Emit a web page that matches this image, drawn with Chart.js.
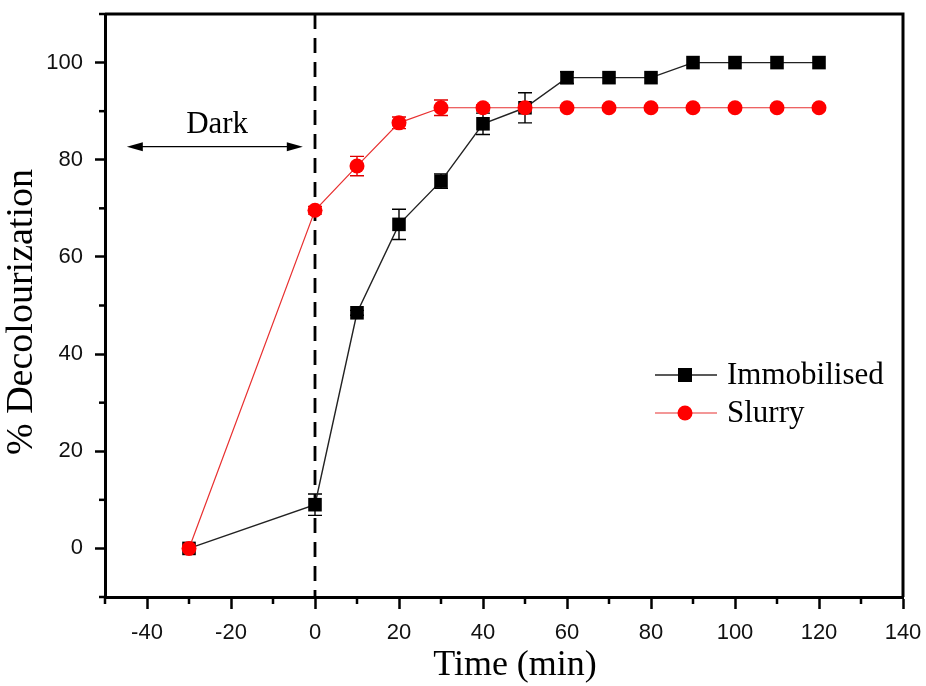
<!DOCTYPE html>
<html>
<head>
<meta charset="utf-8">
<script src="https://cdn.jsdelivr.net/npm/chart.js@4/dist/chart.umd.min.js"></script>
<style>
  html, body { margin: 0; padding: 0; background: #fff; }
  #wrap { width: 926px; height: 686px; }
</style>
</head>
<body>
<div id="wrap"><canvas id="chart" width="926" height="686"></canvas></div>
<script>
// time points (min)
const times = [-30, 0, 10, 20, 30, 40, 50, 60, 70, 80, 90, 100, 110, 120];

// % decolourization
const immobilised = [0, 9, 48.5, 66.7, 75.6, 87.4, 90.7, 96.9, 96.9, 96.9, 100, 100, 100, 100];
const immobilisedErr = [0, 2.2, 0.5, 3.1, 1.5, 2.2, 3.1, 1.2, 0, 0, 0, 0, 0, 0];

const slurry = [0, 69.6, 78.7, 87.6, 90.7, 90.7, 90.7, 90.7, 90.7, 90.7, 90.7, 90.7, 90.7, 90.7];
const slurryErr = [0, 0.8, 2, 1.2, 1.6, 0.6, 0.5, 0, 0, 0, 0, 0, 0, 0];

const seriesNames = ['Immobilised', 'Slurry'];
const darkLabel = 'Dark';

const xTitle = 'Time (min)';
const yTitle = '% Decolourization';

const serif = '"Liberation Serif", "Times New Roman", serif';
const sans = '"Liberation Sans", Arial, sans-serif';

const toPoints = (ys) => ys.map((y, i) => ({ x: times[i], y: y }));

// error bars, drawn under the markers
const errorBars = {
  id: 'errorBars',
  beforeDatasetsDraw(chart) {
    const ctx = chart.ctx;
    const xs = chart.scales.x, ys = chart.scales.y;
    const sets = [
      { vals: immobilised, err: immobilisedErr, color: '#000' },
      { vals: slurry, err: slurryErr, color: '#e00000' }
    ];
    ctx.save();
    ctx.lineWidth = 1.4;
    sets.forEach(s => {
      ctx.strokeStyle = s.color;
      s.vals.forEach((v, i) => {
        if (!s.err[i]) return;
        const px = xs.getPixelForValue(times[i]);
        const top = ys.getPixelForValue(v + s.err[i]);
        const bot = ys.getPixelForValue(v - s.err[i]);
        ctx.beginPath();
        ctx.moveTo(px, top); ctx.lineTo(px, bot);
        ctx.moveTo(px - 7, top); ctx.lineTo(px + 7, top);
        ctx.moveTo(px - 7, bot); ctx.lineTo(px + 7, bot);
        ctx.stroke();
      });
    });
    ctx.restore();
  }
};

// frame, minor ticks, titles, dashed line at t=0, "Dark" arrow, legend
const decorations = {
  id: 'decorations',
  beforeDatasetsDraw(chart) {
    const ctx = chart.ctx;
    const a = chart.chartArea;
    const xs = chart.scales.x, ys = chart.scales.y;
    ctx.save();
    // dashed line where the light goes on
    const x0 = xs.getPixelForValue(0);
    ctx.strokeStyle = '#000';
    ctx.lineWidth = 2.8;
    ctx.setLineDash([15, 9]);
    ctx.beginPath();
    ctx.moveTo(x0, a.top);
    ctx.lineTo(x0, a.bottom);
    ctx.stroke();
    ctx.setLineDash([]);

    // Dark arrow
    const ay = ys.getPixelForValue(82.7);
    const ax1 = xs.getPixelForValue(-44.8), ax2 = xs.getPixelForValue(-2.9);
    ctx.lineWidth = 1.2;
    ctx.beginPath();
    ctx.moveTo(ax1 + 10, ay); ctx.lineTo(ax2 - 10, ay);
    ctx.stroke();
    ctx.fillStyle = '#000';
    ctx.beginPath();
    ctx.moveTo(ax1, ay); ctx.lineTo(ax1 + 16, ay - 4.5); ctx.lineTo(ax1 + 16, ay + 4.5); ctx.closePath();
    ctx.fill();
    ctx.beginPath();
    ctx.moveTo(ax2, ay); ctx.lineTo(ax2 - 16, ay - 4.5); ctx.lineTo(ax2 - 16, ay + 4.5); ctx.closePath();
    ctx.fill();
    ctx.font = '31px ' + serif;
    ctx.textAlign = 'center';
    ctx.textBaseline = 'middle';
    ctx.fillText(darkLabel, xs.getPixelForValue(-23.3), ys.getPixelForValue(87.1));
    ctx.restore();
  },
  afterDraw(chart) {
    const ctx = chart.ctx;
    const a = chart.chartArea;
    const xs = chart.scales.x, ys = chart.scales.y;
    ctx.save();
    ctx.strokeStyle = '#000';
    ctx.lineWidth = 3;
    ctx.beginPath();
    ctx.moveTo(a.left, a.top); ctx.lineTo(a.right, a.top); ctx.lineTo(a.right, a.bottom);
    ctx.stroke();

    // minor ticks
    ctx.lineWidth = 2.5;
    xs.ticks.forEach(t => {
      if (t.value % 20 === 0) return;
      const px = xs.getPixelForValue(t.value);
      ctx.beginPath(); ctx.moveTo(px, a.bottom); ctx.lineTo(px, a.bottom + 7); ctx.stroke();
    });
    ys.ticks.forEach(t => {
      if (t.value % 20 === 0) return;
      const py = ys.getPixelForValue(t.value);
      ctx.beginPath(); ctx.moveTo(a.left, py); ctx.lineTo(a.left - 6, py); ctx.stroke();
    });

    // axis titles
    ctx.fillStyle = '#000';
    ctx.font = '36px ' + serif;
    ctx.textAlign = 'center';
    ctx.textBaseline = 'middle';
    ctx.fillText(xTitle, 515, 666);
    ctx.save();
    ctx.font = '38px ' + serif;
    ctx.translate(22, 312);
    ctx.rotate(-Math.PI / 2);
    ctx.fillText(yTitle, 0, 0);
    ctx.restore();

    // legend
    const lx = 655, lw = 62;
    const rows = [
      { y: 375, color: '#222', fill: '#000', style: 'rect', lineW: 1.4 },
      { y: 413, color: '#e83030', fill: '#f00', style: 'circle', lineW: 1.2 }
    ];
    rows.forEach((r, i) => {
      ctx.strokeStyle = r.color;
      ctx.lineWidth = r.lineW;
      ctx.beginPath(); ctx.moveTo(lx, r.y); ctx.lineTo(lx + lw, r.y); ctx.stroke();
      ctx.fillStyle = r.fill;
      const cx = lx + 30;
      if (r.style === 'rect') {
        ctx.fillRect(cx - 7, r.y - 7, 14, 14);
      } else {
        ctx.beginPath(); ctx.arc(cx, r.y, 7.5, 0, Math.PI * 2); ctx.fill();
      }
      ctx.fillStyle = '#000';
      ctx.font = '31px ' + serif;
      ctx.textAlign = 'left';
      ctx.textBaseline = 'middle';
      ctx.fillText(seriesNames[i], lx + lw + 10, r.y + 1);
    });
    ctx.restore();
  }
};

const majorColor = (c) => (c.tick && c.tick.value % 20 === 0) ? '#000' : 'rgba(0,0,0,0)';
const majorLabel = (v) => (v % 20 === 0 ? v : '');

new Chart(document.getElementById('chart'), {
  type: 'line',
  data: {
    datasets: [
      {
        label: seriesNames[0],
        data: toPoints(immobilised),
        borderColor: '#222',
        borderWidth: 1.4,
        pointStyle: 'rect',
        pointRadius: 9.6,
        pointBackgroundColor: '#000',
        pointBorderWidth: 0,
        order: 2
      },
      {
        label: seriesNames[1],
        data: toPoints(slurry),
        borderColor: '#e83030',
        borderWidth: 1.2,
        pointStyle: 'circle',
        pointRadius: 7.5,
        pointBackgroundColor: '#f00',
        pointBorderWidth: 0,
        order: 1
      }
    ]
  },
  options: {
    responsive: false,
    animation: false,
    layout: { padding: { left: 0, right: 23, top: 14, bottom: 0 } },
    plugins: { legend: { display: false }, tooltip: { enabled: false } },
    scales: {
      x: {
        type: 'linear',
        min: -50,
        max: 140,
        afterFit: (s) => { s.height = 89; s.paddingLeft = 0; s.paddingRight = 0; },
        border: { display: true, color: '#000', width: 3 },
        grid: { drawOnChartArea: false, tickLength: 12, tickWidth: 2.5, tickColor: majorColor },
        ticks: {
          stepSize: 10, autoSkip: false, maxRotation: 0, padding: 11,
          color: '#111', font: { family: sans, size: 22 },
          callback: majorLabel
        }
      },
      y: {
        min: -10,
        max: 110,
        afterFit: (s) => { s.width = 105; s.paddingTop = 0; s.paddingBottom = 0; },
        border: { display: true, color: '#000', width: 3 },
        grid: { drawOnChartArea: false, tickLength: 10, tickWidth: 2.5, tickColor: majorColor },
        ticks: {
          stepSize: 10, autoSkip: false, padding: 12,
          color: '#111', font: { family: sans, size: 22 },
          callback: majorLabel
        }
      }
    }
  },
  plugins: [errorBars, decorations]
});
</script>
</body>
</html>
